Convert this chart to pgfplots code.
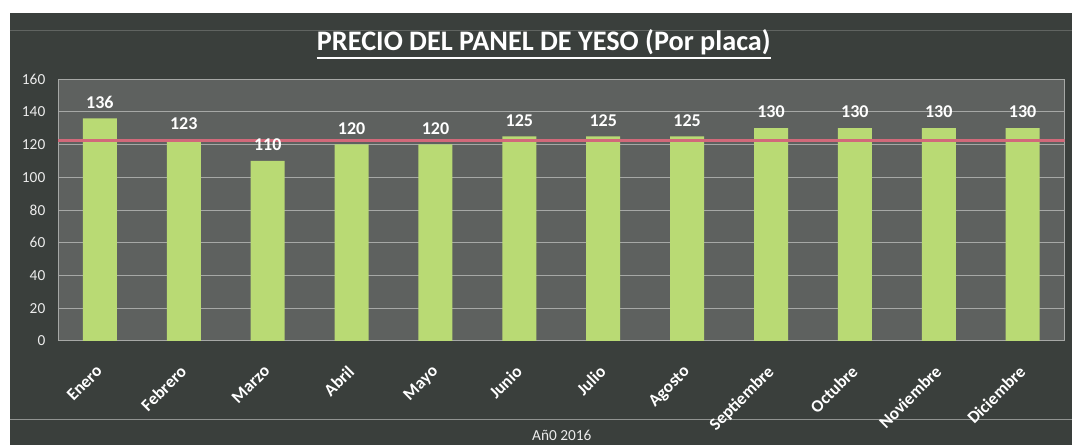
\documentclass[border=0pt]{standalone}
\usepackage{pgfplots}
\pgfplotsset{compat=1.18}
\usepackage{fontspec}
\setmainfont{Carlito}
\definecolor{bgdark}{HTML}{3A3F3C}
\definecolor{plotbg}{HTML}{5E615F}
\definecolor{bargreen}{HTML}{B9DA74}
\definecolor{gridc}{HTML}{A6A8A6}
\definecolor{redline}{HTML}{D2697A}
\definecolor{textc}{HTML}{ECECEC}
\begin{document}
\begin{tikzpicture}[x=0.75pt,y=0.75pt]
\fill[white] (0,0) rectangle (1072,445);
\fill[bgdark] (10,0) rectangle (1072,432);
\draw[gridc!80!bgdark, line width=0.6pt] (10,25) -- (1072,25);
\draw[gridc!35!bgdark, line width=0.5pt] (10,415) -- (1072,415);
\node[text=white, font=\bfseries\fontsize{21.2}{24}\selectfont, inner sep=0pt] (t) at (544,403) {PRECIO DEL PANEL DE YESO (Por placa)};
\draw[white, line width=1.3pt] ([yshift=-2.2pt]t.south west) -- ([yshift=-2.2pt]t.south east);
\node[text=textc, font=\fontsize{11.5}{13}\selectfont] at (562,9) {Añ0 2016};
\begin{axis}[
  at={(43.5pt,78pt)}, anchor=south west,
  scale only axis, width=755.25pt, height=196.5pt,
  xmin=-0.5, xmax=11.5, ymin=0, ymax=160,
  ytick={0,20,...,160},
  xtick={0,...,11},
  xticklabels={Enero,Febrero,Marzo,Abril,Mayo,Junio,Julio,Agosto,Septiembre,Octubre,Noviembre,Diciembre},
  axis background/.style={fill=plotbg},
  axis line style={gridc, line width=0.6pt},
  ymajorgrids, grid style={gridc, line width=0.6pt},
  major tick length=0pt,
  /pgf/number format/assume math mode=true,
  yticklabel style={text=textc, font=\fontsize{11.5}{13}\selectfont, xshift=-6pt},
  xticklabel style={text=white, font=\bfseries\fontsize{13}{15}\selectfont, rotate=45, anchor=north east, xshift=-11.5pt, yshift=-6.4pt},
  clip=true,
]
\addplot[ybar, bar width=25.5pt, bar shift=0pt, fill=bargreen, draw=none,
  nodes near coords,
  every node near coord/.append style={text=white, font=\bfseries\fontsize{13.5}{15}\selectfont, yshift=4pt}]
  coordinates {(0,136) (1,123) (2,110) (3,120) (4,120) (5,125) (6,125) (7,125) (8,130) (9,130) (10,130) (11,130)};
\addplot[sharp plot, redline, line width=2.2pt, forget plot] coordinates {(-0.5,122.6) (11.5,122.6)};
\end{axis}
\end{tikzpicture}
\end{document}
